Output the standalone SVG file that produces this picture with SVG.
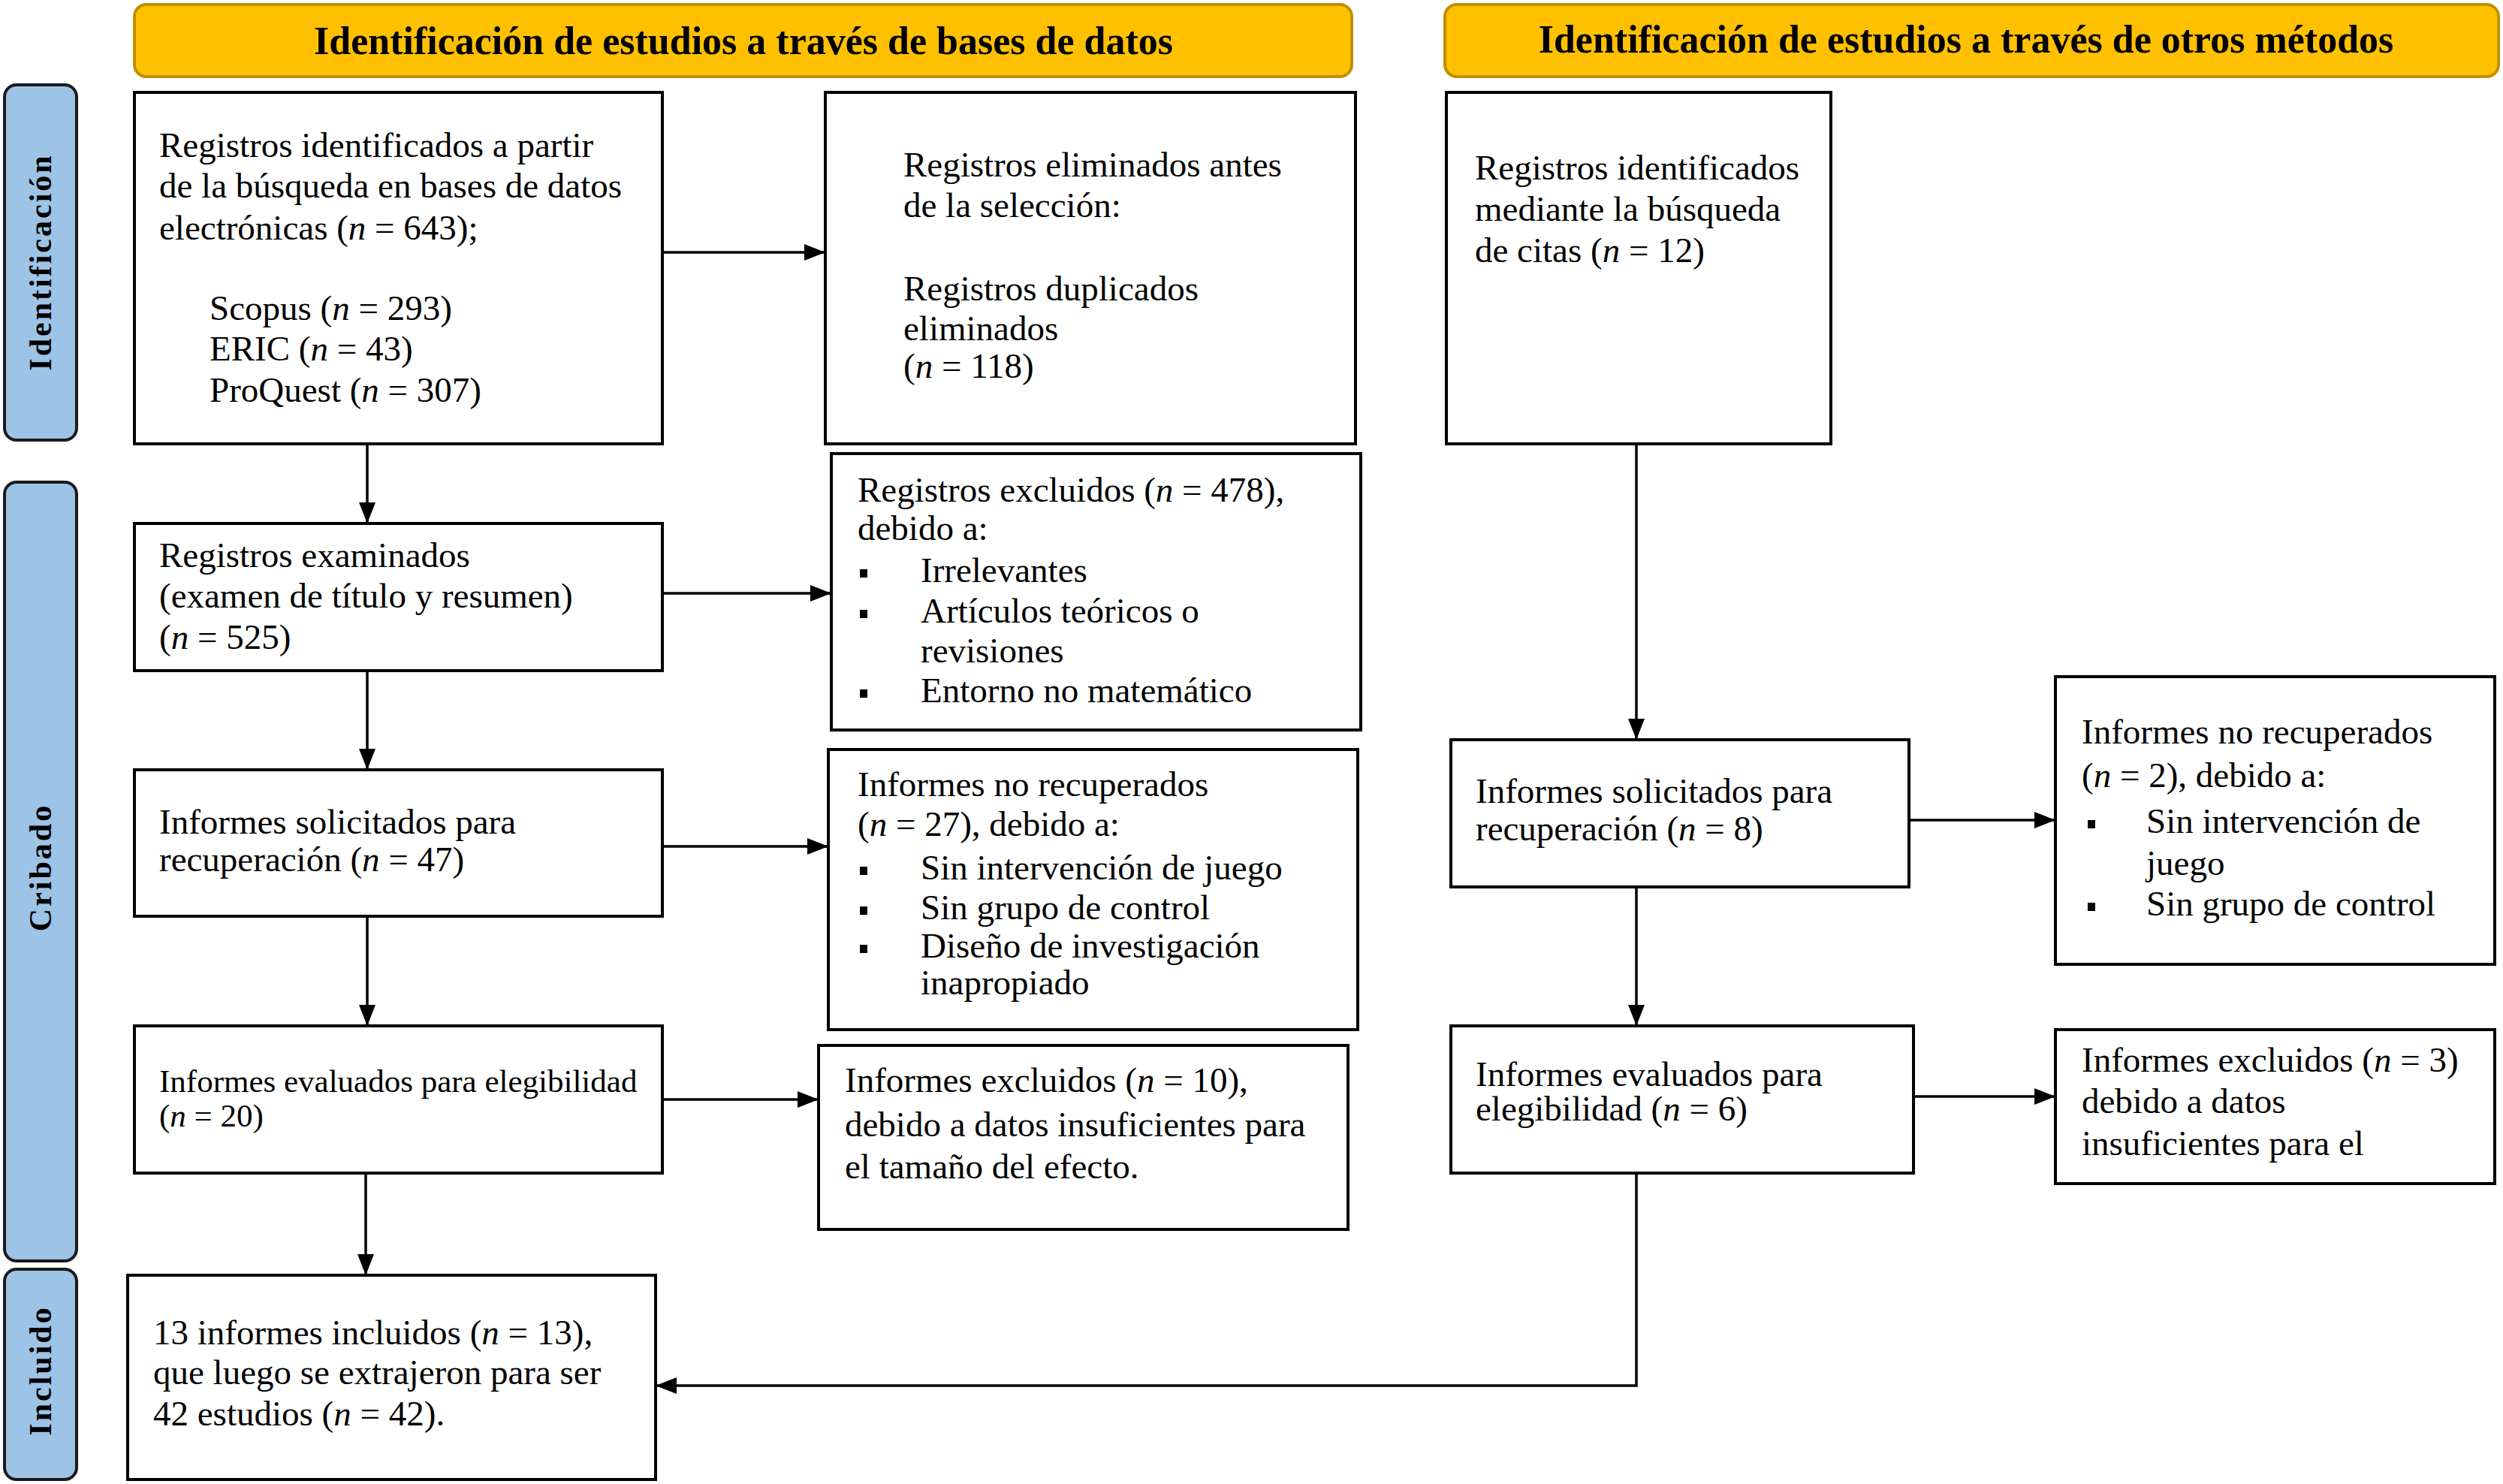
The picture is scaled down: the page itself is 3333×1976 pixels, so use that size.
<svg xmlns="http://www.w3.org/2000/svg" width="3333" height="1976" viewBox="0 0 3333 1976">
<style>
.t{font-family:"Liberation Serif","Times New Roman",serif;font-size:47px;fill:#000}
.s{font-size:43px}
.h{font-family:"Liberation Serif","Times New Roman",serif;font-size:52px;font-weight:bold;fill:#000;text-anchor:middle}
.v{font-family:"Liberation Serif","Times New Roman",serif;font-size:42px;font-weight:bold;fill:#000;text-anchor:middle;letter-spacing:3px}
.box{fill:#fff;stroke:#000;stroke-width:4}
.hdr{fill:#FFC000;stroke:#BF9000;stroke-width:4}
.side{fill:#9DC3E6;stroke:#1a1a1a;stroke-width:4}
.c{fill:none;stroke:#000;stroke-width:3.5}
</style>
<defs>
<marker id="ah" markerUnits="userSpaceOnUse" markerWidth="28" markerHeight="22" refX="28" refY="11" orient="auto">
<path d="M0,0 L28,11 L0,22 Z" fill="#000"/>
</marker>
</defs>
<rect width="3333" height="1976" fill="#fff"/>

<g id="header-db">
<rect class="hdr" x="179" y="6" width="1621" height="96" rx="16"/>
<text class="h" x="990" y="72">Identificación de estudios a través de bases de datos</text>
</g>
<g id="header-other">
<rect class="hdr" x="1924" y="6" width="1403" height="96" rx="16"/>
<text class="h" x="2618" y="70">Identificación de estudios a través de otros métodos</text>
</g>

<g id="side-identificacion">
<rect class="side" x="6" y="113" width="96" height="473" rx="16"/>
<text class="v" transform="translate(54,349) rotate(-90)" dominant-baseline="central">Identificación</text>
</g>
<g id="side-cribado">
<rect class="side" x="6" y="642" width="96" height="1037" rx="16"/>
<text class="v" transform="translate(54,1155) rotate(-90)" dominant-baseline="central">Cribado</text>
</g>
<g id="side-incluido">
<rect class="side" x="6" y="1690" width="96" height="280" rx="16"/>
<text class="v" transform="translate(54,1825) rotate(-90)" dominant-baseline="central">Incluido</text>
</g>

<g id="connectors">
<line class="c" x1="882" y1="336" x2="1099" y2="336" marker-end="url(#ah)"/>
<line class="c" x1="489" y1="591" x2="489" y2="697" marker-end="url(#ah)"/>
<line class="c" x1="882" y1="790" x2="1107" y2="790" marker-end="url(#ah)"/>
<line class="c" x1="489" y1="893" x2="489" y2="1025" marker-end="url(#ah)"/>
<line class="c" x1="882" y1="1127" x2="1103" y2="1127" marker-end="url(#ah)"/>
<line class="c" x1="489" y1="1220" x2="489" y2="1366" marker-end="url(#ah)"/>
<line class="c" x1="882" y1="1464" x2="1090" y2="1464" marker-end="url(#ah)"/>
<line class="c" x1="487" y1="1562" x2="487" y2="1698" marker-end="url(#ah)"/>
<line class="c" x1="2179" y1="591" x2="2179" y2="985" marker-end="url(#ah)"/>
<line class="c" x1="2542" y1="1092" x2="2737" y2="1092" marker-end="url(#ah)"/>
<line class="c" x1="2179" y1="1181" x2="2179" y2="1366" marker-end="url(#ah)"/>
<line class="c" x1="2548" y1="1460" x2="2737" y2="1460" marker-end="url(#ah)"/>
<polyline class="c" points="2179,1562 2179,1845 873,1845" marker-end="url(#ah)"/>
</g>

<g id="registros-identificados">
<rect class="box" x="179" y="123" width="703" height="468"/>
<text class="t" x="212" y="209">Registros identificados a partir</text>
<text class="t" x="212" y="263">de la búsqueda en bases de datos</text>
<text class="t" x="212" y="319">electrónicas (<tspan font-style="italic">n</tspan> = 643);</text>
<text class="t" x="279" y="426">Scopus (<tspan font-style="italic">n</tspan> = 293)</text>
<text class="t" x="279" y="480">ERIC (<tspan font-style="italic">n</tspan> = 43)</text>
<text class="t" x="279" y="535">ProQuest (<tspan font-style="italic">n</tspan> = 307)</text>
</g>

<g id="registros-eliminados">
<rect class="box" x="1099" y="123" width="706" height="468"/>
<text class="t" x="1203" y="235">Registros eliminados antes</text>
<text class="t" x="1203" y="289">de la selección:</text>
<text class="t" x="1203" y="400">Registros duplicados</text>
<text class="t" x="1203" y="453">eliminados</text>
<text class="t" x="1203" y="503">(<tspan font-style="italic">n</tspan> = 118)</text>
</g>

<g id="registros-citas">
<rect class="box" x="1926" y="123" width="512" height="468"/>
<text class="t" x="1964" y="239">Registros identificados</text>
<text class="t" x="1964" y="294">mediante la búsqueda</text>
<text class="t" x="1964" y="349">de citas (<tspan font-style="italic">n</tspan> = 12)</text>
</g>

<g id="registros-examinados">
<rect class="box" x="179" y="697" width="703" height="196"/>
<text class="t" x="212" y="755">Registros examinados</text>
<text class="t" x="212" y="809">(examen de título y resumen)</text>
<text class="t" x="212" y="864">(<tspan font-style="italic">n</tspan> = 525)</text>
</g>

<g id="registros-excluidos">
<rect class="box" x="1107" y="604" width="705" height="368"/>
<text class="t" x="1142" y="668">Registros excluidos (<tspan font-style="italic">n</tspan> = 478),</text>
<text class="t" x="1142" y="719">debido a:</text>
<rect x="1145" y="758" width="10" height="11" fill="#000"/>
<text class="t" x="1226" y="775">Irrelevantes</text>
<rect x="1145" y="812" width="10" height="11" fill="#000"/>
<text class="t" x="1226" y="829">Artículos teóricos o</text>
<text class="t" x="1226" y="882">revisiones</text>
<rect x="1145" y="918" width="10" height="11" fill="#000"/>
<text class="t" x="1226" y="935">Entorno no matemático</text>
</g>

<g id="informes-solicitados">
<rect class="box" x="179" y="1025" width="703" height="195"/>
<text class="t" x="212" y="1110">Informes solicitados para</text>
<text class="t" x="212" y="1160">recuperación (<tspan font-style="italic">n</tspan> = 47)</text>
</g>

<g id="informes-no-recuperados">
<rect class="box" x="1103" y="998" width="705" height="373"/>
<text class="t" x="1142" y="1060">Informes no recuperados</text>
<text class="t" x="1142" y="1113">(<tspan font-style="italic">n</tspan> = 27), debido a:</text>
<rect x="1145" y="1154" width="10" height="11" fill="#000"/>
<text class="t" x="1226" y="1171">Sin intervención de juego</text>
<rect x="1145" y="1207" width="10" height="11" fill="#000"/>
<text class="t" x="1226" y="1224">Sin grupo de control</text>
<rect x="1145" y="1258" width="10" height="11" fill="#000"/>
<text class="t" x="1226" y="1275">Diseño de investigación</text>
<text class="t" x="1226" y="1324">inapropiado</text>
</g>

<g id="informes-evaluados">
<rect class="box" x="179" y="1366" width="703" height="196"/>
<text class="t s" x="212" y="1454">Informes evaluados para elegibilidad</text>
<text class="t s" x="212" y="1500">(<tspan font-style="italic">n</tspan> = 20)</text>
</g>

<g id="informes-excluidos">
<rect class="box" x="1090" y="1392" width="705" height="245"/>
<text class="t" x="1125" y="1454">Informes excluidos (<tspan font-style="italic">n</tspan> = 10),</text>
<text class="t" x="1125" y="1513">debido a datos insuficientes para</text>
<text class="t" x="1125" y="1569">el tamaño del efecto.</text>
</g>

<g id="informes-incluidos">
<rect class="box" x="170" y="1698" width="703" height="272"/>
<text class="t" x="204" y="1790">13 informes incluidos (<tspan font-style="italic">n</tspan> = 13),</text>
<text class="t" x="204" y="1843">que luego se extrajeron para ser</text>
<text class="t" x="204" y="1898">42 estudios (<tspan font-style="italic">n</tspan> = 42).</text>
</g>

<g id="informes-solicitados-otros">
<rect class="box" x="1932" y="985" width="610" height="196"/>
<text class="t" x="1965" y="1069">Informes solicitados para</text>
<text class="t" x="1965" y="1119">recuperación (<tspan font-style="italic">n</tspan> = 8)</text>
</g>

<g id="informes-no-recuperados-otros">
<rect class="box" x="2737" y="901" width="585" height="383"/>
<text class="t" x="2772" y="990">Informes no recuperados</text>
<text class="t" x="2772" y="1048">(<tspan font-style="italic">n</tspan> = 2), debido a:</text>
<rect x="2780" y="1092" width="10" height="11" fill="#000"/>
<text class="t" x="2858" y="1109">Sin intervención de</text>
<text class="t" x="2858" y="1165">juego</text>
<rect x="2780" y="1202" width="10" height="11" fill="#000"/>
<text class="t" x="2858" y="1219">Sin grupo de control</text>
</g>

<g id="informes-evaluados-otros">
<rect class="box" x="1932" y="1366" width="616" height="196"/>
<text class="t" x="1965" y="1446">Informes evaluados para</text>
<text class="t" x="1965" y="1492">elegibilidad (<tspan font-style="italic">n</tspan> = 6)</text>
</g>

<g id="informes-excluidos-otros">
<rect class="box" x="2737" y="1371" width="585" height="205"/>
<text class="t" x="2772" y="1427">Informes excluidos (<tspan font-style="italic">n</tspan> = 3)</text>
<text class="t" x="2772" y="1482">debido a datos</text>
<text class="t" x="2772" y="1538">insuficientes para el</text>
</g>
</svg>
